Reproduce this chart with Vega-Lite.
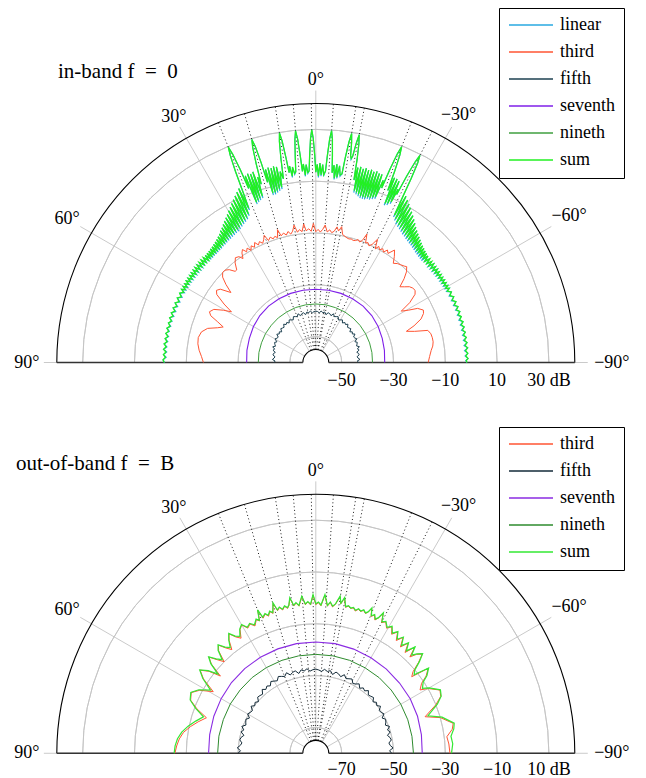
{
"$schema":"https://vega.github.io/schema/vega-lite/v6.json",
"padding":0,
"autosize":{"type":"pad"},
"spacing":0,
"bounds":"flush",
"background":"white",
"config":{
 "view":{"stroke":null},
 "font":"Liberation Serif",
 "legend":{"symbolType":"stroke","symbolSize":1936,"symbolStrokeWidth":1.6,"labelFont":"Liberation Serif","labelFontSize":18,"labelColor":"black","strokeColor":"black","fillColor":"white","padding":9,"rowPadding":9,"labelOffset":6,"clipHeight":16,"direction":"vertical"},
 "text":{"font":"Liberation Serif","fontSize":18,"color":"black"},
 "title":{"font":"Liberation Serif","fontSize":21,"fontWeight":"normal","color":"black","anchor":"start","frame":"group","offset":0}
},
"resolve":{"scale":{"x":"independent","y":"independent","color":"independent","radius":"independent"},"legend":{"color":"independent"}},
"datasets":{
 "ringsT":[{"db":-50},{"db":-30},{"db":-10},{"db":10},{"db":30}],
 "frameT":[{"db":40},{"db":-55}],
 "ringsB":[{"db":-70},{"db":-50},{"db":-30},{"db":-10},{"db":10}],
 "frameB":[{"db":20},{"db":-75}],
 "spokes":[{"a":0},{"a":30},{"a":60},{"a":90},{"a":-30},{"a":-60},{"a":-90}],
 "users":[{"a":22.1},{"a":16.0},{"a":9.0},{"a":5.0},{"a":1.0},{"a":-3.9},{"a":-8.9},{"a":-10.8},{"a":-21.7},{"a":-26.7}],
 "base":[{"a":90},{"a":-90}],
 "angLabels":[{"a":0,"t":"0°"},{"a":30,"t":"30°"},{"a":60,"t":"60°"},{"a":90,"t":"90°"},{"a":-30,"t":"−30°"},{"a":-60,"t":"−60°"},{"a":-90,"t":"−90°"}],
 "radT":[{"db":-50,"t":"−50"},{"db":-30,"t":"−30"},{"db":-10,"t":"−10"},{"db":10,"t":"10"},{"db":30,"t":"30 dB"}],
 "radB":[{"db":-70,"t":"−70"},{"db":-50,"t":"−50"},{"db":-30,"t":"−30"},{"db":-10,"t":"−10"},{"db":10,"t":"10 dB"}],
 "tS":[
{"a":90,"linear":-1.6,"sum":-1.5},{"a":89,"linear":-1.0,"sum":-1.0},{"a":88,"linear":-2.2,"sum":-1.9},{"a":87,"linear":-1.1,"sum":-1.1},{"a":86,"linear":-2.3,"sum":-2.0},{"a":85,"linear":-1.0,"sum":-1.0},{"a":84,"linear":-2.2,"sum":-1.9},{"a":83,"linear":-1.0,"sum":-1.0},{"a":82,"linear":-2.3,"sum":-2.0},{"a":81,"linear":-1.1,"sum":-1.1},{"a":80,"linear":-2.3,"sum":-2.0},{"a":79,"linear":-1.0,"sum":-1.0},{"a":78,"linear":-2.2,"sum":-1.9},{"a":77,"linear":-1.0,"sum":-1.0},{"a":76,"linear":-2.3,"sum":-2.0},{"a":75,"linear":-1.1,"sum":-1.1},{"a":74,"linear":-2.3,"sum":-2.0},{"a":73,"linear":-1.0,"sum":-1.0},{"a":72,"linear":-2.4,"sum":-2.0},{"a":71,"linear":-1.0,"sum":-1.0},{"a":70,"linear":-2.5,"sum":-2.1},{"a":69,"linear":-1.0,"sum":-1.0},{"a":68,"linear":-2.5,"sum":-2.1},{"a":67,"linear":-1.0,"sum":-1.0},{"a":66,"linear":-2.6,"sum":-2.2},{"a":65,"linear":-1.0,"sum":-1.0},{"a":64,"linear":-2.6,"sum":-2.2},{"a":63,"linear":-1.0,"sum":-1.0},{"a":62,"linear":-2.6,"sum":-2.2},
{"a":61.4,"linear":-1.0,"sum":-1.0},{"a":60.8,"linear":-2.6,"sum":-2.2},{"a":60.2,"linear":-1.0,"sum":-1.0},{"a":59.6,"linear":-2.7,"sum":-2.3},{"a":59.0,"linear":-1.0,"sum":-1.0},{"a":58.4,"linear":-2.7,"sum":-2.3},{"a":57.8,"linear":-0.9,"sum":-0.9},{"a":57.2,"linear":-2.7,"sum":-2.3},{"a":56.6,"linear":-0.9,"sum":-0.9},{"a":56.0,"linear":-2.8,"sum":-2.4},{"a":55.4,"linear":-0.9,"sum":-0.9},{"a":54.8,"linear":-2.8,"sum":-2.4},{"a":54.2,"linear":-0.8,"sum":-0.8},{"a":53.6,"linear":-2.9,"sum":-2.5},{"a":53.0,"linear":-0.8,"sum":-0.8},{"a":52.4,"linear":-2.9,"sum":-2.5},{"a":51.8,"linear":-0.7,"sum":-0.7},{"a":51.2,"linear":-3.0,"sum":-2.6},{"a":50.6,"linear":-0.7,"sum":-0.7},{"a":50.0,"linear":-3.0,"sum":-2.6},{"a":49.4,"linear":-0.6,"sum":-0.6},{"a":48.8,"linear":-3.1,"sum":-2.7},{"a":48.2,"linear":-0.6,"sum":-0.6},{"a":47.6,"linear":-3.1,"sum":-2.7},{"a":47.0,"linear":-0.6,"sum":-0.6},{"a":46.4,"linear":-3.2,"sum":-2.8},
{"a":45.9,"linear":-0.6,"sum":-0.6},{"a":45.4,"linear":-3.3,"sum":-2.8},{"a":44.9,"linear":-0.5,"sum":-0.5},{"a":44.4,"linear":-3.3,"sum":-2.8},{"a":43.9,"linear":-0.4,"sum":-0.4},{"a":43.4,"linear":-3.2,"sum":-2.7},{"a":42.9,"linear":-0.2,"sum":-0.2},{"a":42.4,"linear":-3.2,"sum":-2.7},{"a":41.9,"linear":0.0,"sum":0.0},{"a":41.4,"linear":-3.1,"sum":-2.6},{"a":40.9,"linear":0.3,"sum":0.3},{"a":40.4,"linear":-3.0,"sum":-2.5},{"a":39.9,"linear":0.6,"sum":0.6},{"a":39.4,"linear":-2.9,"sum":-2.4},{"a":38.9,"linear":1.0,"sum":1.0},{"a":38.4,"linear":-2.7,"sum":-2.2},{"a":37.9,"linear":1.5,"sum":1.5},{"a":37.4,"linear":-2.6,"sum":-2.0},{"a":36.9,"linear":2.0,"sum":2.0},{"a":36.4,"linear":-2.4,"sum":-1.8},{"a":35.9,"linear":2.8,"sum":2.8},{"a":35.4,"linear":-2.2,"sum":-1.5},{"a":34.9,"linear":3.4,"sum":3.4},{"a":34.4,"linear":-2.0,"sum":-1.2},{"a":33.9,"linear":4.2,"sum":4.2},{"a":33.4,"linear":-1.8,"sum":-1.0},{"a":32.9,"linear":5.0,"sum":5.0},{"a":32.4,"linear":-1.6,"sum":-0.8},{"a":31.9,"linear":5.8,"sum":5.8},{"a":31.4,"linear":-1.4,"sum":-0.6},{"a":30.9,"linear":6.6,"sum":6.6},{"a":30.4,"linear":-1.2,"sum":-0.4},{"a":29.9,"linear":7.6,"sum":7.6},{"a":29.4,"linear":-0.8,"sum":0.0},{"a":28.9,"linear":8.5,"sum":8.5},{"a":28.4,"linear":-0.3,"sum":0.5},{"a":27.9,"linear":9.5,"sum":9.5},{"a":27.4,"linear":0.2,"sum":1.0},{"a":26.9,"linear":10.5,"sum":10.5},{"a":26.4,"linear":0.7,"sum":1.5},{"a":25.9,"linear":11.5,"sum":11.5},{"a":25.4,"linear":1.2,"sum":2.0},{"a":24.9,"linear":12.5,"sum":12.5},{"a":24.4,"linear":2.2,"sum":3.0},{"a":23.9,"linear":13.5,"sum":13.5},{"a":23.5,"linear":4.2,"sum":5.0},
{"a":23.1,"linear":12,"sum":12},{"a":22.8,"linear":20,"sum":20},{"a":22.45,"linear":26.5,"sum":26.5},{"a":22.1,"linear":29.8,"sum":29.8},{"a":21.75,"linear":26.5,"sum":26.5},{"a":21.4,"linear":20,"sum":20},{"a":21.1,"linear":12,"sum":12},
{"a":20.7,"linear":17,"sum":17},{"a":20.3,"linear":5.2,"sum":6},{"a":19.9,"linear":17.5,"sum":17.5},{"a":19.5,"linear":5.7,"sum":6.5},{"a":19.1,"linear":17,"sum":17},{"a":18.7,"linear":6.2,"sum":7},{"a":18.3,"linear":17.5,"sum":17.5},{"a":17.8,"linear":6.7,"sum":7.5},{"a":17.4,"linear":15,"sum":15},
{"a":17.0,"linear":12,"sum":12},{"a":16.7,"linear":20,"sum":20},{"a":16.35,"linear":26.5,"sum":26.5},{"a":16.0,"linear":29.6,"sum":29.6},{"a":15.65,"linear":26.5,"sum":26.5},{"a":15.3,"linear":20,"sum":20},{"a":15.0,"linear":12,"sum":12},
{"a":14.6,"linear":17,"sum":17},{"a":14.2,"linear":6.7,"sum":7.5},{"a":13.8,"linear":17.5,"sum":17.5},{"a":13.4,"linear":6.7,"sum":7.5},{"a":13.0,"linear":17,"sum":17},{"a":12.6,"linear":7.2,"sum":8},{"a":12.2,"linear":17.5,"sum":17.5},{"a":11.8,"linear":7.7,"sum":8.5},{"a":11.4,"linear":17,"sum":17},{"a":11.0,"linear":8.2,"sum":9},{"a":10.6,"linear":15,"sum":15},
{"a":10.0,"linear":12,"sum":12},{"a":9.7,"linear":20,"sum":20},{"a":9.35,"linear":26.5,"sum":26.5},{"a":9.0,"linear":29.7,"sum":29.7},{"a":8.65,"linear":26.5,"sum":26.5},{"a":8.3,"linear":20,"sum":20},{"a":8.0,"linear":14,"sum":14},
{"a":7.6,"linear":16.5,"sum":16.5},{"a":7.2,"linear":12,"sum":12.5},{"a":6.8,"linear":16,"sum":16},{"a":6.4,"linear":13,"sum":13.5},
{"a":6.0,"linear":14,"sum":14},{"a":5.7,"linear":20,"sum":20},{"a":5.35,"linear":26.5,"sum":26.5},{"a":5.0,"linear":29.8,"sum":29.8},{"a":4.65,"linear":26.5,"sum":26.5},{"a":4.3,"linear":20,"sum":20},{"a":4.0,"linear":14,"sum":14},
{"a":3.6,"linear":16.8,"sum":16.8},{"a":3.2,"linear":12,"sum":12.5},{"a":2.8,"linear":16.5,"sum":16.5},{"a":2.4,"linear":13,"sum":13.5},
{"a":2.0,"linear":14,"sum":14},{"a":1.7,"linear":20,"sum":20},{"a":1.35,"linear":26.5,"sum":26.5},{"a":1.0,"linear":29.8,"sum":29.8},{"a":0.65,"linear":26.5,"sum":26.5},{"a":0.3,"linear":20,"sum":20},{"a":0.0,"linear":13.5,"sum":13.5},
{"a":-0.4,"linear":16.5,"sum":16.5},{"a":-0.8,"linear":11.5,"sum":12},{"a":-1.2,"linear":17,"sum":17},{"a":-1.6,"linear":12,"sum":12.5},{"a":-2.0,"linear":16.5,"sum":16.5},{"a":-2.4,"linear":12,"sum":12.5},
{"a":-2.9,"linear":14,"sum":14},{"a":-3.2,"linear":20,"sum":20},{"a":-3.55,"linear":26.5,"sum":26.5},{"a":-3.9,"linear":29.7,"sum":29.7},{"a":-4.25,"linear":26.5,"sum":26.5},{"a":-4.6,"linear":20,"sum":20},{"a":-4.9,"linear":13.5,"sum":13.5},
{"a":-5.3,"linear":16.5,"sum":16.5},{"a":-5.7,"linear":11,"sum":11.5},{"a":-6.1,"linear":17,"sum":17},{"a":-6.5,"linear":11.5,"sum":12},{"a":-6.9,"linear":16.5,"sum":16.5},{"a":-7.4,"linear":12.5,"sum":13},
{"a":-7.9,"linear":13.5,"sum":13.5},{"a":-8.2,"linear":20,"sum":20},{"a":-8.55,"linear":26,"sum":26},{"a":-8.9,"linear":29.5,"sum":29.5},{"a":-9.25,"linear":26,"sum":26},{"a":-9.55,"linear":21,"sum":21},{"a":-9.85,"linear":19.5,"sum":20},{"a":-10.15,"linear":21,"sum":21},{"a":-10.45,"linear":26,"sum":26},{"a":-10.8,"linear":29.5,"sum":29.5},{"a":-11.15,"linear":26,"sum":26},{"a":-11.5,"linear":20,"sum":20},{"a":-11.8,"linear":12,"sum":12},
{"a":-12.2,"linear":17,"sum":17},{"a":-12.6,"linear":7.2,"sum":8},{"a":-13.0,"linear":17.5,"sum":17.5},{"a":-13.4,"linear":6.7,"sum":7.5},{"a":-13.8,"linear":17,"sum":17},{"a":-14.2,"linear":6.2,"sum":7},{"a":-14.6,"linear":17.5,"sum":17.5},{"a":-15.0,"linear":5.7,"sum":6.5},{"a":-15.4,"linear":17,"sum":17},{"a":-15.8,"linear":5.7,"sum":6.5},{"a":-16.2,"linear":17.5,"sum":17.5},{"a":-16.6,"linear":5.7,"sum":6.5},{"a":-17.0,"linear":17,"sum":17},{"a":-17.4,"linear":6.2,"sum":7},{"a":-17.8,"linear":17.5,"sum":17.5},{"a":-18.2,"linear":6.2,"sum":7},{"a":-18.6,"linear":17,"sum":17},{"a":-19.0,"linear":6.7,"sum":7.5},{"a":-19.4,"linear":17,"sum":17},{"a":-19.8,"linear":7.2,"sum":8},{"a":-20.3,"linear":15,"sum":15},
{"a":-20.7,"linear":12,"sum":12},{"a":-21.0,"linear":20,"sum":20},{"a":-21.35,"linear":26.5,"sum":26.5},{"a":-21.7,"linear":29.6,"sum":29.6},{"a":-22.05,"linear":26.5,"sum":26.5},{"a":-22.4,"linear":20,"sum":20},{"a":-22.7,"linear":12,"sum":12},
{"a":-23.1,"linear":17.5,"sum":17.5},{"a":-23.5,"linear":6.2,"sum":7},{"a":-23.9,"linear":17.5,"sum":17.5},{"a":-24.3,"linear":6.7,"sum":7.5},{"a":-24.7,"linear":17,"sum":17},{"a":-25.1,"linear":7.7,"sum":8.5},{"a":-25.4,"linear":14,"sum":14},
{"a":-25.7,"linear":12,"sum":12},{"a":-26.0,"linear":20,"sum":20},{"a":-26.35,"linear":26.5,"sum":26.5},{"a":-26.7,"linear":29.5,"sum":29.5},{"a":-27.05,"linear":26.5,"sum":26.5},{"a":-27.4,"linear":20,"sum":20},{"a":-27.7,"linear":12,"sum":12},
{"a":-28.1,"linear":3.7,"sum":4.5},{"a":-28.5,"linear":13,"sum":13},{"a":-29.0,"linear":2.7,"sum":3.5},{"a":-29.5,"linear":12,"sum":12},{"a":-30.0,"linear":1.7,"sum":2.5},{"a":-30.5,"linear":11,"sum":11},{"a":-31.0,"linear":1.2,"sum":2.0},{"a":-31.5,"linear":10,"sum":10},{"a":-32.0,"linear":0.7,"sum":1.5},{"a":-32.5,"linear":9,"sum":9},{"a":-33.0,"linear":0.2,"sum":1.0},{"a":-33.5,"linear":8,"sum":8},{"a":-34.0,"linear":-0.3,"sum":0.5},{"a":-34.5,"linear":7,"sum":7},{"a":-35.0,"linear":-0.6,"sum":0.2},{"a":-35.5,"linear":6,"sum":6},{"a":-36.0,"linear":-1.0,"sum":-0.2},{"a":-36.5,"linear":5,"sum":5},{"a":-37.0,"linear":-1.3,"sum":-0.5},{"a":-37.5,"linear":4.2,"sum":4.2},{"a":-38.0,"linear":-1.6,"sum":-0.8},{"a":-38.5,"linear":3.5,"sum":3.5},{"a":-39.0,"linear":-1.8,"sum":-1.0},{"a":-39.5,"linear":2.8,"sum":2.8},{"a":-40.0,"linear":-2.1,"sum":-1.3},{"a":-40.5,"linear":2.2,"sum":2.2},{"a":-41.0,"linear":-2.4,"sum":-1.6},{"a":-41.5,"linear":1.6,"sum":1.6},{"a":-42.0,"linear":-2.7,"sum":-1.9},{"a":-42.5,"linear":1.1,"sum":1.1},{"a":-43.0,"linear":-2.9,"sum":-2.1},{"a":-43.5,"linear":0.7,"sum":0.7},{"a":-44.0,"linear":-3.1,"sum":-2.3},{"a":-44.5,"linear":0.3,"sum":0.3},{"a":-45.0,"linear":-3.2,"sum":-2.4},{"a":-45.5,"linear":0.0,"sum":0.0},{"a":-46.0,"linear":-3.3,"sum":-2.5},{"a":-46.5,"linear":-0.3,"sum":-0.3},
{"a":-47.1,"linear":-3.0,"sum":-2.6},{"a":-47.7,"linear":-0.5,"sum":-0.5},{"a":-48.3,"linear":-3.0,"sum":-2.6},{"a":-48.9,"linear":-0.6,"sum":-0.6},{"a":-49.5,"linear":-3.0,"sum":-2.6},{"a":-50.1,"linear":-0.7,"sum":-0.7},{"a":-50.7,"linear":-2.9,"sum":-2.5},{"a":-51.3,"linear":-0.8,"sum":-0.8},{"a":-51.9,"linear":-2.9,"sum":-2.5},{"a":-52.5,"linear":-0.8,"sum":-0.8},{"a":-53.1,"linear":-2.8,"sum":-2.4},{"a":-53.7,"linear":-0.9,"sum":-0.9},{"a":-54.3,"linear":-2.8,"sum":-2.4},{"a":-54.9,"linear":-0.9,"sum":-0.9},{"a":-55.5,"linear":-2.7,"sum":-2.3},{"a":-56.1,"linear":-1.0,"sum":-1.0},{"a":-56.7,"linear":-2.7,"sum":-2.3},{"a":-57.3,"linear":-1.0,"sum":-1.0},{"a":-57.9,"linear":-2.7,"sum":-2.3},{"a":-58.5,"linear":-1.0,"sum":-1.0},{"a":-59.1,"linear":-2.6,"sum":-2.2},{"a":-59.7,"linear":-1.0,"sum":-1.0},{"a":-60.3,"linear":-2.6,"sum":-2.2},{"a":-60.9,"linear":-1.0,"sum":-1.0},{"a":-61.5,"linear":-2.6,"sum":-2.2},
{"a":-62.5,"linear":-1.0,"sum":-1.0},{"a":-63.5,"linear":-2.5,"sum":-2.1},{"a":-64.5,"linear":-1.0,"sum":-1.0},{"a":-65.5,"linear":-2.5,"sum":-2.1},{"a":-66.5,"linear":-1.0,"sum":-1.0},{"a":-67.5,"linear":-2.5,"sum":-2.1},{"a":-68.5,"linear":-1.0,"sum":-1.0},{"a":-69.5,"linear":-2.4,"sum":-2.0},{"a":-70.5,"linear":-1.0,"sum":-1.0},{"a":-71.5,"linear":-2.4,"sum":-2.0},{"a":-72.5,"linear":-1.1,"sum":-1.1},{"a":-73.5,"linear":-2.4,"sum":-2.0},{"a":-74.5,"linear":-1.0,"sum":-1.0},{"a":-75.5,"linear":-2.4,"sum":-2.0},{"a":-76.5,"linear":-1.1,"sum":-1.1},{"a":-77.5,"linear":-2.4,"sum":-2.0},{"a":-78.5,"linear":-1.1,"sum":-1.1},{"a":-79.5,"linear":-2.4,"sum":-2.0},{"a":-80.5,"linear":-1.1,"sum":-1.1},{"a":-81.5,"linear":-2.4,"sum":-2.0},{"a":-82.5,"linear":-1.1,"sum":-1.1},{"a":-83.5,"linear":-2.4,"sum":-2.0},{"a":-84.5,"linear":-1.1,"sum":-1.1},{"a":-85.5,"linear":-2.4,"sum":-2.0},{"a":-86.5,"linear":-1.2,"sum":-1.2},{"a":-87.5,"linear":-2.3,"sum":-2.0},{"a":-88.5,"linear":-1.2,"sum":-1.2},{"a":-89.3,"linear":-2.1,"sum":-1.9},{"a":-90,"linear":-1.7,"sum":-1.6}
 ],
 "t3":[
{"a":90,"third":-16.6},{"a":87,"third":-15.8},{"a":84,"third":-14.7},{"a":81,"third":-13.9},{"a":78,"third":-13.6},{"a":75,"third":-14.3},{"a":72.5,"third":-16.2},{"a":70.5,"third":-19.8},{"a":69,"third":-21.7},{"a":67.5,"third":-19},{"a":66,"third":-15.6},{"a":64.5,"third":-14.5},{"a":62.5,"third":-15.6},{"a":60.5,"third":-19},{"a":59,"third":-22},{"a":57.5,"third":-18},{"a":55.5,"third":-13.6},{"a":54,"third":-12.6},{"a":52.5,"third":-13.5},{"a":50.5,"third":-17.5},{"a":49,"third":-14},{"a":47.5,"third":-11.2},{"a":46,"third":-10},{"a":44.5,"third":-10},{"a":43,"third":-11},{"a":41.5,"third":-13},{"a":40.5,"third":-13},{"a":39,"third":-10.5},{"a":37.5,"third":-9},{"a":36,"third":-9.5},{"a":35,"third":-11},{"a":34,"third":-9},{"a":33,"third":-8},{"a":32,"third":-9.6},{"a":31,"third":-8.5},{"a":30,"third":-10},{"a":29,"third":-8.5},{"a":28,"third":-9.6},{"a":27,"third":-8},{"a":26,"third":-9.5},{"a":25,"third":-8.5},{"a":24,"third":-9.6},{"a":23,"third":-8.5},{"a":22.1,"third":-7},{"a":21.2,"third":-9.5},{"a":20,"third":-8.5},{"a":19,"third":-9.5},{"a":18,"third":-8.8},{"a":17,"third":-9.6},{"a":16.1,"third":-6.6},{"a":15.3,"third":-9.3},{"a":14,"third":-8.5},{"a":13,"third":-9.5},{"a":12,"third":-8.3},{"a":11,"third":-9.5},{"a":10,"third":-8.5},{"a":9,"third":-6.3},{"a":8,"third":-9.2},{"a":7,"third":-8.3},{"a":6,"third":-9.2},{"a":5,"third":-6.3},{"a":4.2,"third":-9},{"a":3,"third":-8.3},{"a":2,"third":-9.3},{"a":1,"third":-6.3},{"a":0,"third":-9.5},{"a":-1,"third":-8.6},{"a":-2,"third":-9.6},{"a":-3,"third":-8.5},{"a":-3.9,"third":-6.8},{"a":-5,"third":-9.4},{"a":-6,"third":-8.5},{"a":-7,"third":-9.5},{"a":-8,"third":-8.8},{"a":-8.9,"third":-7},{"a":-9.8,"third":-8.5},{"a":-10.8,"third":-6.6},{"a":-11.8,"third":-9.5},{"a":-13,"third":-10},{"a":-14,"third":-10.4},{"a":-15,"third":-10.6},{"a":-16,"third":-10.4},{"a":-17,"third":-10.7},{"a":-18,"third":-10.5},{"a":-19,"third":-9.8},{"a":-20,"third":-10.5},{"a":-20.9,"third":-9.5},{"a":-21.7,"third":-6.6},{"a":-22.6,"third":-10},{"a":-23.5,"third":-9.5},{"a":-24.5,"third":-10.5},{"a":-25.5,"third":-9.5},{"a":-26.6,"third":-6.8},{"a":-27.6,"third":-10.5},{"a":-28.5,"third":-9},{"a":-29.5,"third":-10},{"a":-30.5,"third":-9},{"a":-31.5,"third":-10},{"a":-32.5,"third":-8.5},{"a":-33.5,"third":-9.5},{"a":-35,"third":-7},{"a":-36.5,"third":-9},{"a":-38,"third":-11.4},{"a":-39.5,"third":-10.5},{"a":-41,"third":-10},{"a":-42.5,"third":-9.5},{"a":-43.5,"third":-9},{"a":-45,"third":-10.5},{"a":-46.5,"third":-13},{"a":-48,"third":-16.3},{"a":-49.5,"third":-15},{"a":-51,"third":-13.5},{"a":-52.5,"third":-12.8},{"a":-54,"third":-12.6},{"a":-55.5,"third":-13.5},{"a":-57.5,"third":-17},{"a":-59,"third":-21.5},{"a":-60.5,"third":-19},{"a":-62,"third":-15.5},{"a":-64,"third":-13.8},{"a":-65.5,"third":-14.3},{"a":-67.5,"third":-16},{"a":-69.5,"third":-19.5},{"a":-71,"third":-23},{"a":-72.5,"third":-20},{"a":-74,"third":-15},{"a":-76,"third":-14.2},{"a":-78,"third":-14},{"a":-80,"third":-14},{"a":-82,"third":-14.4},{"a":-84,"third":-15.2},{"a":-87,"third":-16},{"a":-90,"third":-16.6}
 ],
 "t5":[
{"a":90,"fifth":-43.8},{"a":88,"fifth":-44.3},{"a":86,"fifth":-43.2},{"a":84,"fifth":-43.8},{"a":82,"fifth":-44.1},{"a":80,"fifth":-43.2},{"a":78,"fifth":-43.3},{"a":76,"fifth":-43.9},{"a":74,"fifth":-42.8},{"a":72,"fifth":-43.3},{"a":70,"fifth":-42.3},{"a":68,"fifth":-43.2},{"a":66,"fifth":-42.7},{"a":64,"fifth":-42.3},{"a":62,"fifth":-43.0},{"a":60,"fifth":-41.8},{"a":58,"fifth":-42.3},{"a":56,"fifth":-42.5},{"a":54,"fifth":-41.4},{"a":52,"fifth":-42.1},{"a":50,"fifth":-41.6},{"a":48,"fifth":-42.3},{"a":46,"fifth":-41.2},{"a":44,"fifth":-41.5},{"a":42,"fifth":-41.7},{"a":40,"fifth":-40.7},{"a":38,"fifth":-41.4},{"a":36,"fifth":-40.9},{"a":34,"fifth":-41.6},{"a":32,"fifth":-40.6},{"a":30,"fifth":-41.0},{"a":28,"fifth":-41.4},{"a":26,"fifth":-40.3},{"a":24,"fifth":-40.6},{"a":22,"fifth":-40.9},{"a":20,"fifth":-40.0},{"a":18,"fifth":-41.0},{"a":16,"fifth":-40.4},{"a":14,"fifth":-40.2},{"a":12,"fifth":-41.1},{"a":10,"fifth":-40.2},{"a":8,"fifth":-40.6},{"a":6,"fifth":-40.0},{"a":4,"fifth":-40.8},{"a":2,"fifth":-40.3},{"a":0,"fifth":-40.2},
{"a":-2,"fifth":-40.3},{"a":-4,"fifth":-40.8},{"a":-6,"fifth":-40.0},{"a":-8,"fifth":-40.6},{"a":-10,"fifth":-40.2},{"a":-12,"fifth":-41.1},{"a":-14,"fifth":-40.2},{"a":-16,"fifth":-40.4},{"a":-18,"fifth":-41.0},{"a":-20,"fifth":-40.0},{"a":-22,"fifth":-40.9},{"a":-24,"fifth":-40.6},{"a":-26,"fifth":-40.3},{"a":-28,"fifth":-41.4},{"a":-30,"fifth":-41.0},{"a":-32,"fifth":-40.6},{"a":-34,"fifth":-41.6},{"a":-36,"fifth":-40.9},{"a":-38,"fifth":-41.4},{"a":-40,"fifth":-40.7},{"a":-42,"fifth":-41.7},{"a":-44,"fifth":-41.5},{"a":-46,"fifth":-41.2},{"a":-48,"fifth":-42.3},{"a":-50,"fifth":-41.6},{"a":-52,"fifth":-42.1},{"a":-54,"fifth":-41.3},{"a":-56,"fifth":-42.4},{"a":-58,"fifth":-42.2},{"a":-60,"fifth":-41.7},{"a":-62,"fifth":-42.9},{"a":-64,"fifth":-42.2},{"a":-66,"fifth":-42.6},{"a":-68,"fifth":-43.0},{"a":-70,"fifth":-42.1},{"a":-72,"fifth":-43.1},{"a":-74,"fifth":-42.6},{"a":-76,"fifth":-43.7},{"a":-78,"fifth":-43.1},{"a":-80,"fifth":-43.0},{"a":-82,"fifth":-43.9},{"a":-84,"fifth":-43.6},{"a":-86,"fifth":-42.9},{"a":-88,"fifth":-44.0},{"a":-90,"fifth":-43.4}
 ],
 "t7":[
{"a":90,"seventh":-33.3},{"a":80,"seventh":-33.0},{"a":70,"seventh":-32.7},{"a":60,"seventh":-32.2},{"a":50,"seventh":-31.8},{"a":40,"seventh":-31.6},{"a":30,"seventh":-31.6},{"a":20,"seventh":-31.6},{"a":10,"seventh":-31.7},{"a":0,"seventh":-31.7},{"a":-10,"seventh":-31.7},{"a":-20,"seventh":-31.6},{"a":-30,"seventh":-31.6},{"a":-40,"seventh":-31.6},{"a":-50,"seventh":-31.8},{"a":-60,"seventh":-32.2},{"a":-70,"seventh":-32.7},{"a":-80,"seventh":-33.1},{"a":-90,"seventh":-33.4}
 ],
 "t9":[
{"a":90,"nineth":-37.8},{"a":80,"nineth":-37.7},{"a":70,"nineth":-37.7},{"a":60,"nineth":-37.6},{"a":50,"nineth":-37.6},{"a":40,"nineth":-37.5},{"a":30,"nineth":-37.5},{"a":20,"nineth":-37.4},{"a":10,"nineth":-37.4},{"a":0,"nineth":-37.4},{"a":-10,"nineth":-37.4},{"a":-20,"nineth":-37.5},{"a":-30,"nineth":-37.5},{"a":-40,"nineth":-37.6},{"a":-50,"nineth":-37.7},{"a":-60,"nineth":-37.8},{"a":-70,"nineth":-37.9},{"a":-80,"nineth":-38.0},{"a":-90,"nineth":-38.1}
 ],
 "b3S":[
{"a":90,"third":-25.6,"sum":-25.3},{"a":87,"third":-26.2,"sum":-25.6},{"a":84,"third":-27.0,"sum":-26.3},{"a":81,"third":-28.3,"sum":-27.6},{"a":78,"third":-30.5,"sum":-29.6},{"a":75,"third":-33.0,"sum":-32.0},{"a":72,"third":-35.6,"sum":-34.4},{"a":69.5,"third":-31.0,"sum":-30.5},{"a":67,"third":-27.5,"sum":-27.3},{"a":64,"third":-26.5,"sum":-26.3},{"a":61.5,"third":-29.0,"sum":-28.6},{"a":59,"third":-33.8,"sum":-32.6},{"a":56.5,"third":-28.0,"sum":-27.7},{"a":54.3,"third":-25.0,"sum":-24.8},{"a":52.5,"third":-28.0,"sum":-27.6},{"a":51,"third":-32.6,"sum":-31.4},{"a":49.5,"third":-27.0,"sum":-26.7},{"a":48,"third":-24.5,"sum":-24.3},{"a":46.5,"third":-27.5,"sum":-27.0},{"a":45,"third":-30.0,"sum":-28.9},{"a":43.5,"third":-25.5,"sum":-25.2},{"a":42,"third":-23.8,"sum":-23.6},{"a":40.5,"third":-26.5,"sum":-26.1},{"a":39,"third":-28.5,"sum":-27.5},{"a":37.5,"third":-25.0,"sum":-24.8},{"a":36,"third":-23.0,"sum":-22.8},{"a":34.5,"third":-25.5,"sum":-25.1},{"a":33,"third":-27.0,"sum":-26.2},{"a":31.5,"third":-24.0,"sum":-23.8},{"a":30,"third":-22.8,"sum":-22.6},{"a":28.5,"third":-25.0,"sum":-24.6},{"a":27,"third":-24.0,"sum":-23.7},{"a":25.5,"third":-25.5,"sum":-25.0},{"a":24,"third":-23.5,"sum":-23.3},{"a":23,"third":-24.5,"sum":-24.2},{"a":22.1,"third":-20.4,"sum":-20.2},{"a":21.3,"third":-24.0,"sum":-23.6},{"a":20,"third":-22.8,"sum":-22.6},{"a":19,"third":-24.0,"sum":-23.6},{"a":18,"third":-22.5,"sum":-22.3},{"a":17,"third":-23.5,"sum":-23.2},{"a":15.9,"third":-19.8,"sum":-19.6},{"a":15,"third":-23.0,"sum":-22.7},{"a":14,"third":-22.0,"sum":-21.8},{"a":13,"third":-23.2,"sum":-22.9},{"a":12,"third":-22.0,"sum":-21.8},{"a":11,"third":-23.0,"sum":-22.7},{"a":10.3,"third":-22.0,"sum":-21.8},{"a":9.5,"third":-19.3,"sum":-19.1},{"a":8.5,"third":-22.5,"sum":-22.2},{"a":7.5,"third":-21.5,"sum":-21.3},{"a":6.5,"third":-22.8,"sum":-22.5},{"a":5.1,"third":-19.3,"sum":-19.1},{"a":4,"third":-22.5,"sum":-22.2},{"a":3,"third":-21.5,"sum":-21.3},{"a":2,"third":-22.7,"sum":-22.4},{"a":1,"third":-18.9,"sum":-18.7},{"a":0,"third":-22.6,"sum":-22.3},{"a":-1,"third":-21.8,"sum":-21.6},{"a":-2,"third":-23.0,"sum":-22.7},{"a":-3.3,"third":-18.8,"sum":-18.6},{"a":-4.5,"third":-23.0,"sum":-22.7},{"a":-5.5,"third":-21.5,"sum":-21.3},{"a":-6.5,"third":-23.1,"sum":-22.8},{"a":-7.5,"third":-22.0,"sum":-21.8},{"a":-8.8,"third":-18.8,"sum":-18.6},{"a":-9.5,"third":-21.5,"sum":-21.3},{"a":-10.5,"third":-19.0,"sum":-18.8},{"a":-11.5,"third":-22.5,"sum":-22.2},{"a":-12.5,"third":-21.8,"sum":-21.6},{"a":-13.5,"third":-22.5,"sum":-22.3},{"a":-14.5,"third":-22.0,"sum":-21.8},{"a":-15.5,"third":-23.0,"sum":-22.7},{"a":-16.5,"third":-22.0,"sum":-21.8},{"a":-17.5,"third":-22.6,"sum":-22.4},{"a":-18.5,"third":-21.8,"sum":-21.6},{"a":-19.5,"third":-22.7,"sum":-22.5},{"a":-20.3,"third":-22.0,"sum":-21.8},{"a":-21.1,"third":-20.0,"sum":-19.8},{"a":-22,"third":-23.0,"sum":-22.7},{"a":-23,"third":-22.0,"sum":-21.8},{"a":-23.9,"third":-23.7,"sum":-23.3},{"a":-24.8,"third":-22.5,"sum":-22.3},{"a":-25.7,"third":-20.0,"sum":-19.8},{"a":-26.7,"third":-23.5,"sum":-23.2},{"a":-28,"third":-22.5,"sum":-22.3},{"a":-29.5,"third":-24.5,"sum":-24.1},{"a":-31,"third":-23.0,"sum":-22.8},{"a":-32.5,"third":-25.5,"sum":-25.0},{"a":-34,"third":-23.5,"sum":-23.3},{"a":-35.5,"third":-26.5,"sum":-25.9},{"a":-37,"third":-24.0,"sum":-23.8},{"a":-38.5,"third":-27.5,"sum":-26.8},{"a":-40,"third":-24.5,"sum":-24.3},{"a":-41.5,"third":-28.0,"sum":-27.2},{"a":-43,"third":-24.0,"sum":-23.8},{"a":-44.3,"third":-28.0,"sum":-27.0},{"a":-45.5,"third":-25.5,"sum":-25.2},{"a":-47,"third":-23.8,"sum":-23.6},{"a":-48.5,"third":-27.0,"sum":-26.6},{"a":-50,"third":-31.0,"sum":-30.2},{"a":-51.4,"third":-32.6,"sum":-31.4},{"a":-52.9,"third":-25.6,"sum":-25.4},{"a":-55,"third":-28.0,"sum":-27.6},{"a":-56.5,"third":-31.0,"sum":-30.3},{"a":-58.7,"third":-32.9,"sum":-31.8},{"a":-60,"third":-30.0,"sum":-29.5},{"a":-63,"third":-26.2,"sum":-26.0},{"a":-65.5,"third":-27.0,"sum":-26.8},{"a":-68,"third":-30.0,"sum":-29.4},{"a":-71.5,"third":-35.5,"sum":-34.3},{"a":-74,"third":-30.0,"sum":-29.3},{"a":-77.7,"third":-25.7,"sum":-25.3},{"a":-80,"third":-26.5,"sum":-25.9},{"a":-82.8,"third":-29.0,"sum":-27.4},{"a":-86,"third":-28.5,"sum":-27.0},{"a":-90,"third":-28.2,"sum":-27.6}
 ],
 "b5":[
{"a":90,"fifth":-50.0},{"a":88,"fifth":-50.9},{"a":86,"fifth":-49.6},{"a":84,"fifth":-50.7},{"a":82,"fifth":-51.2},{"a":80,"fifth":-50.2},{"a":78,"fifth":-50.5},{"a":76,"fifth":-51.4},{"a":74,"fifth":-50.0},{"a":72,"fifth":-50.8},{"a":70,"fifth":-49.6},{"a":68,"fifth":-50.9},{"a":66,"fifth":-50.4},{"a":64,"fifth":-50.0},{"a":62,"fifth":-51.0},{"a":60,"fifth":-49.6},{"a":58,"fifth":-50.2},{"a":56,"fifth":-50.5},{"a":54,"fifth":-49.1},{"a":52,"fifth":-50.1},{"a":50,"fifth":-49.4},{"a":48,"fifth":-50.2},{"a":46,"fifth":-48.8},{"a":44,"fifth":-49.0},{"a":42,"fifth":-49.3},{"a":40,"fifth":-47.8},{"a":38,"fifth":-48.7},{"a":36,"fifth":-47.9},{"a":34,"fifth":-48.6},{"a":32,"fifth":-47.3},{"a":30,"fifth":-47.8},{"a":28,"fifth":-48.3},{"a":26,"fifth":-47.0},{"a":24,"fifth":-47.5},{"a":22,"fifth":-48.0},{"a":20,"fifth":-46.9},{"a":18,"fifth":-48.2},{"a":16,"fifth":-47.5},{"a":14,"fifth":-47.2},{"a":12,"fifth":-48.5},{"a":10,"fifth":-47.3},{"a":8,"fifth":-47.9},{"a":6,"fifth":-47.2},{"a":4,"fifth":-48.2},{"a":2,"fifth":-47.7},{"a":0,"fifth":-47.5},
{"a":-2,"fifth":-47.8},{"a":-4,"fifth":-48.3},{"a":-6,"fifth":-47.4},{"a":-8,"fifth":-48.1},{"a":-10,"fifth":-47.6},{"a":-12,"fifth":-48.9},{"a":-14,"fifth":-47.7},{"a":-16,"fifth":-48.1},{"a":-18,"fifth":-48.9},{"a":-20,"fifth":-47.7},{"a":-22,"fifth":-48.9},{"a":-24,"fifth":-48.5},{"a":-26,"fifth":-48.1},{"a":-28,"fifth":-49.5},{"a":-30,"fifth":-49.1},{"a":-32,"fifth":-48.4},{"a":-34,"fifth":-49.7},{"a":-36,"fifth":-48.8},{"a":-38,"fifth":-49.4},{"a":-40,"fifth":-48.4},{"a":-42,"fifth":-49.7},{"a":-44,"fifth":-49.4},{"a":-46,"fifth":-49.0},{"a":-48,"fifth":-50.3},{"a":-50,"fifth":-49.4},{"a":-52,"fifth":-50.1},{"a":-54,"fifth":-49.1},{"a":-56,"fifth":-50.5},{"a":-58,"fifth":-50.2},{"a":-60,"fifth":-49.6},{"a":-62,"fifth":-51.0},{"a":-64,"fifth":-50.0},{"a":-66,"fifth":-50.4},{"a":-68,"fifth":-51.0},{"a":-70,"fifth":-49.7},{"a":-72,"fifth":-50.9},{"a":-74,"fifth":-50.1},{"a":-76,"fifth":-51.5},{"a":-78,"fifth":-50.7},{"a":-80,"fifth":-50.4},{"a":-82,"fifth":-51.5},{"a":-84,"fifth":-51.1},{"a":-86,"fifth":-50.1},{"a":-88,"fifth":-51.5},{"a":-90,"fifth":-50.7}
 ],
 "b7":[
{"a":90,"seventh":-38.6},{"a":80,"seventh":-38.4},{"a":70,"seventh":-38.1},{"a":60,"seventh":-37.8},{"a":50,"seventh":-37.5},{"a":40,"seventh":-37.3},{"a":30,"seventh":-37.2},{"a":20,"seventh":-37.1},{"a":10,"seventh":-37.0},{"a":0,"seventh":-37.0},{"a":-10,"seventh":-37.0},{"a":-20,"seventh":-37.2},{"a":-30,"seventh":-37.4},{"a":-40,"seventh":-37.6},{"a":-50,"seventh":-37.8},{"a":-60,"seventh":-37.9},{"a":-70,"seventh":-38.2},{"a":-80,"seventh":-38.6},{"a":-90,"seventh":-38.9}
 ],
 "b9":[
{"a":90,"nineth":-42.1},{"a":80,"nineth":-42.0},{"a":70,"nineth":-42.0},{"a":60,"nineth":-41.9},{"a":50,"nineth":-41.9},{"a":40,"nineth":-41.8},{"a":30,"nineth":-41.8},{"a":20,"nineth":-41.8},{"a":10,"nineth":-41.8},{"a":0,"nineth":-41.8},{"a":-10,"nineth":-41.8},{"a":-20,"nineth":-41.8},{"a":-30,"nineth":-41.9},{"a":-40,"nineth":-41.9},{"a":-50,"nineth":-42.0},{"a":-60,"nineth":-42.1},{"a":-70,"nineth":-42.2},{"a":-80,"nineth":-42.3},{"a":-90,"nineth":-42.3}
 ]
},
"vconcat":[
{
 "width":646,"height":389,
 "title":{"text":"in-band f\u2002=\u20020","dx":58,"dy":103,"baseline":"alphabetic"},
 "layer":[
  {"data":{"name":"spokes"},
   "transform":[{"calculate":"-0.05*sin(datum.a*PI/180)","as":"x1"},{"calculate":"0.05*cos(datum.a*PI/180)","as":"y1"},{"calculate":"-1.05*sin(datum.a*PI/180)","as":"x2"},{"calculate":"1.05*cos(datum.a*PI/180)","as":"y2"}],
   "mark":{"type":"rule","color":"#c4c4c4","strokeWidth":0.9},
   "encoding":{"x":{"field":"x1","type":"quantitative","axis":null,"scale":{"domain":[-1.2193,1.2749],"nice":false,"zero":false}},"y":{"field":"y1","type":"quantitative","axis":null,"scale":{"domain":[-0.1023,1.3996],"nice":false,"zero":false}},"x2":{"field":"x2"},"y2":{"field":"y2"}}},
  {"data":{"name":"ringsT"},
   "mark":{"type":"arc","filled":false,"color":"#c4c4c4","strokeWidth":0.9,"theta":-1.5707963,"theta2":1.5707963},
   "encoding":{"x":{"datum":0,"type":"quantitative","axis":null},"y":{"datum":0,"type":"quantitative","axis":null},"radius":{"field":"db","type":"quantitative","scale":{"type":"linear","domain":[-60,40],"range":[0,259],"zero":false}},"radius2":{"field":"db"}}},
  {"data":{"name":"frameT"},
   "mark":{"type":"arc","filled":false,"color":"#000000","strokeWidth":1.1,"theta":-1.5707963,"theta2":1.5707963},
   "encoding":{"x":{"datum":0,"type":"quantitative","axis":null},"y":{"datum":0,"type":"quantitative","axis":null},"radius":{"field":"db","type":"quantitative","scale":{"type":"linear","domain":[-60,40],"range":[0,259],"zero":false}},"radius2":{"field":"db"}}},
  {"data":{"name":"users"},
   "transform":[{"calculate":"-0.05*sin(datum.a*PI/180)","as":"x1"},{"calculate":"0.05*cos(datum.a*PI/180)","as":"y1"},{"calculate":"-1.0*sin(datum.a*PI/180)","as":"x2"},{"calculate":"1.0*cos(datum.a*PI/180)","as":"y2"}],
   "mark":{"type":"rule","color":"#000000","strokeWidth":0.9,"strokeDash":[1,2.6]},
   "encoding":{"x":{"field":"x1","type":"quantitative","axis":null},"y":{"field":"y1","type":"quantitative","axis":null},"x2":{"field":"x2"},"y2":{"field":"y2"}}},
  {"data":{"name":"base"},
   "transform":[{"calculate":"-0.05*sin(datum.a*PI/180)","as":"x1"},{"calculate":"0","as":"y1"},{"calculate":"-1.0*sin(datum.a*PI/180)","as":"x2"}],
   "mark":{"type":"rule","color":"#333333","strokeWidth":1.4},
   "encoding":{"x":{"field":"x1","type":"quantitative","axis":null},"y":{"field":"y1","type":"quantitative","axis":null},"x2":{"field":"x2"}}},
  {"data":{"name":"tS"},
   "transform":[{"fold":["linear"],"as":["series","db"]},{"calculate":"(datum.db+60)/100","as":"rho"},{"calculate":"-datum.rho*sin(datum.a*PI/180)","as":"x"},{"calculate":"datum.rho*cos(datum.a*PI/180)","as":"y"}],
   "mark":{"type":"line","strokeWidth":1.1},
   "encoding":{"x":{"field":"x","type":"quantitative","axis":null},"y":{"field":"y","type":"quantitative","axis":null},"order":{"field":"a","type":"quantitative"},
    "color":{"field":"series","type":"nominal","scale":{"domain":["linear","third","fifth","seventh","nineth","sum"],"range":["#29a8e0","#ff5533","#1d4050","#7f1fe8","#3f9f3f","#22f022"]},"legend":{"title":null,"orient":"none","legendX":499,"legendY":8,"zindex":1}}}},
  {"data":{"name":"t3"},
   "transform":[{"fold":["third"],"as":["series","db"]},{"calculate":"(datum.db+60)/100","as":"rho"},{"calculate":"-datum.rho*sin(datum.a*PI/180)","as":"x"},{"calculate":"datum.rho*cos(datum.a*PI/180)","as":"y"}],
   "mark":{"type":"line","strokeWidth":1.0},
   "encoding":{"x":{"field":"x","type":"quantitative","axis":null},"y":{"field":"y","type":"quantitative","axis":null},"order":{"field":"a","type":"quantitative"},
    "color":{"field":"series","type":"nominal","scale":{"domain":["linear","third","fifth","seventh","nineth","sum"],"range":["#29a8e0","#ff5533","#1d4050","#7f1fe8","#3f9f3f","#22f022"]},"legend":{"title":null,"orient":"none","legendX":499,"legendY":8,"zindex":1}}}},
  {"data":{"name":"t5"},
   "transform":[{"fold":["fifth"],"as":["series","db"]},{"calculate":"(datum.db+60)/100","as":"rho"},{"calculate":"-datum.rho*sin(datum.a*PI/180)","as":"x"},{"calculate":"datum.rho*cos(datum.a*PI/180)","as":"y"}],
   "mark":{"type":"line","strokeWidth":1.0},
   "encoding":{"x":{"field":"x","type":"quantitative","axis":null},"y":{"field":"y","type":"quantitative","axis":null},"order":{"field":"a","type":"quantitative"},
    "color":{"field":"series","type":"nominal","scale":{"domain":["linear","third","fifth","seventh","nineth","sum"],"range":["#29a8e0","#ff5533","#1d4050","#7f1fe8","#3f9f3f","#22f022"]},"legend":{"title":null,"orient":"none","legendX":499,"legendY":8,"zindex":1}}}},
  {"data":{"name":"t7"},
   "transform":[{"fold":["seventh"],"as":["series","db"]},{"calculate":"(datum.db+60)/100","as":"rho"},{"calculate":"-datum.rho*sin(datum.a*PI/180)","as":"x"},{"calculate":"datum.rho*cos(datum.a*PI/180)","as":"y"}],
   "mark":{"type":"line","strokeWidth":1.1},
   "encoding":{"x":{"field":"x","type":"quantitative","axis":null},"y":{"field":"y","type":"quantitative","axis":null},"order":{"field":"a","type":"quantitative"},
    "color":{"field":"series","type":"nominal","scale":{"domain":["linear","third","fifth","seventh","nineth","sum"],"range":["#29a8e0","#ff5533","#1d4050","#7f1fe8","#3f9f3f","#22f022"]},"legend":{"title":null,"orient":"none","legendX":499,"legendY":8,"zindex":1}}}},
  {"data":{"name":"t9"},
   "transform":[{"fold":["nineth"],"as":["series","db"]},{"calculate":"(datum.db+60)/100","as":"rho"},{"calculate":"-datum.rho*sin(datum.a*PI/180)","as":"x"},{"calculate":"datum.rho*cos(datum.a*PI/180)","as":"y"}],
   "mark":{"type":"line","strokeWidth":1.0},
   "encoding":{"x":{"field":"x","type":"quantitative","axis":null},"y":{"field":"y","type":"quantitative","axis":null},"order":{"field":"a","type":"quantitative"},
    "color":{"field":"series","type":"nominal","scale":{"domain":["linear","third","fifth","seventh","nineth","sum"],"range":["#29a8e0","#ff5533","#1d4050","#7f1fe8","#3f9f3f","#22f022"]},"legend":{"title":null,"orient":"none","legendX":499,"legendY":8,"zindex":1}}}},
  {"data":{"name":"tS"},
   "transform":[{"fold":["sum"],"as":["series","db"]},{"calculate":"(datum.db+60)/100","as":"rho"},{"calculate":"-datum.rho*sin(datum.a*PI/180)","as":"x"},{"calculate":"datum.rho*cos(datum.a*PI/180)","as":"y"}],
   "mark":{"type":"line","strokeWidth":1.3},
   "encoding":{"x":{"field":"x","type":"quantitative","axis":null},"y":{"field":"y","type":"quantitative","axis":null},"order":{"field":"a","type":"quantitative"},
    "color":{"field":"series","type":"nominal","scale":{"domain":["linear","third","fifth","seventh","nineth","sum"],"range":["#29a8e0","#ff5533","#1d4050","#7f1fe8","#3f9f3f","#22f022"]},"legend":{"title":null,"orient":"none","legendX":499,"legendY":8,"zindex":1}}}},
  {"data":{"name":"angLabels"},
   "transform":[{"calculate":"(282+pow(sin(datum.a*PI/180),2)*(length(datum.t)-2)*7)/259","as":"lr"},{"calculate":"-datum.lr*sin(datum.a*PI/180)","as":"x"},{"calculate":"datum.lr*cos(datum.a*PI/180)","as":"y"}],
   "mark":{"type":"text","align":"center","baseline":"middle","fontSize":18},
   "encoding":{"x":{"field":"x","type":"quantitative","axis":null},"y":{"field":"y","type":"quantitative","axis":null},"text":{"field":"t"}}},
  {"data":{"name":"radT"},
   "transform":[{"calculate":"(datum.db+60)/100","as":"x"}],
   "mark":{"type":"text","align":"center","baseline":"middle","fontSize":18,"dy":18},
   "encoding":{"x":{"field":"x","type":"quantitative","axis":null},"y":{"datum":0,"type":"quantitative","axis":null},"text":{"field":"t"}}}
 ]
},
{
 "width":646,"height":389,
 "title":{"text":"out-of-band f\u2002=\u2002B","dx":16,"dy":106,"baseline":"alphabetic"},
 "layer":[
  {"data":{"name":"spokes"},
   "transform":[{"calculate":"-0.05*sin(datum.a*PI/180)","as":"x1"},{"calculate":"0.05*cos(datum.a*PI/180)","as":"y1"},{"calculate":"-1.05*sin(datum.a*PI/180)","as":"x2"},{"calculate":"1.05*cos(datum.a*PI/180)","as":"y2"}],
   "mark":{"type":"rule","color":"#c4c4c4","strokeWidth":0.9},
   "encoding":{"x":{"field":"x1","type":"quantitative","axis":null,"scale":{"domain":[-1.2193,1.2749],"nice":false,"zero":false}},"y":{"field":"y1","type":"quantitative","axis":null,"scale":{"domain":[-0.0954,1.4066],"nice":false,"zero":false}},"x2":{"field":"x2"},"y2":{"field":"y2"}}},
  {"data":{"name":"ringsB"},
   "mark":{"type":"arc","filled":false,"color":"#c4c4c4","strokeWidth":0.9,"theta":-1.5707963,"theta2":1.5707963},
   "encoding":{"x":{"datum":0,"type":"quantitative","axis":null},"y":{"datum":0,"type":"quantitative","axis":null},"radius":{"field":"db","type":"quantitative","scale":{"type":"linear","domain":[-80,20],"range":[0,259],"zero":false}},"radius2":{"field":"db"}}},
  {"data":{"name":"frameB"},
   "mark":{"type":"arc","filled":false,"color":"#000000","strokeWidth":1.1,"theta":-1.5707963,"theta2":1.5707963},
   "encoding":{"x":{"datum":0,"type":"quantitative","axis":null},"y":{"datum":0,"type":"quantitative","axis":null},"radius":{"field":"db","type":"quantitative","scale":{"type":"linear","domain":[-80,20],"range":[0,259],"zero":false}},"radius2":{"field":"db"}}},
  {"data":{"name":"users"},
   "transform":[{"calculate":"-0.05*sin(datum.a*PI/180)","as":"x1"},{"calculate":"0.05*cos(datum.a*PI/180)","as":"y1"},{"calculate":"-1.0*sin(datum.a*PI/180)","as":"x2"},{"calculate":"1.0*cos(datum.a*PI/180)","as":"y2"}],
   "mark":{"type":"rule","color":"#000000","strokeWidth":0.9,"strokeDash":[1,2.6]},
   "encoding":{"x":{"field":"x1","type":"quantitative","axis":null},"y":{"field":"y1","type":"quantitative","axis":null},"x2":{"field":"x2"},"y2":{"field":"y2"}}},
  {"data":{"name":"base"},
   "transform":[{"calculate":"-0.05*sin(datum.a*PI/180)","as":"x1"},{"calculate":"0","as":"y1"},{"calculate":"-1.0*sin(datum.a*PI/180)","as":"x2"}],
   "mark":{"type":"rule","color":"#333333","strokeWidth":1.4},
   "encoding":{"x":{"field":"x1","type":"quantitative","axis":null},"y":{"field":"y1","type":"quantitative","axis":null},"x2":{"field":"x2"}}},
  {"data":{"name":"b3S"},
   "transform":[{"fold":["third"],"as":["series","db"]},{"calculate":"(datum.db+80)/100","as":"rho"},{"calculate":"-datum.rho*sin(datum.a*PI/180)","as":"x"},{"calculate":"datum.rho*cos(datum.a*PI/180)","as":"y"}],
   "mark":{"type":"line","strokeWidth":1.0},
   "encoding":{"x":{"field":"x","type":"quantitative","axis":null},"y":{"field":"y","type":"quantitative","axis":null},"order":{"field":"a","type":"quantitative"},
    "color":{"field":"series","type":"nominal","scale":{"domain":["third","fifth","seventh","nineth","sum"],"range":["#ff5533","#132a38","#8a2be2","#2e8b2e","#33e833"]},"legend":{"title":null,"orient":"none","legendX":499,"legendY":38,"zindex":1}}}},
  {"data":{"name":"b5"},
   "transform":[{"fold":["fifth"],"as":["series","db"]},{"calculate":"(datum.db+80)/100","as":"rho"},{"calculate":"-datum.rho*sin(datum.a*PI/180)","as":"x"},{"calculate":"datum.rho*cos(datum.a*PI/180)","as":"y"}],
   "mark":{"type":"line","strokeWidth":1.0},
   "encoding":{"x":{"field":"x","type":"quantitative","axis":null},"y":{"field":"y","type":"quantitative","axis":null},"order":{"field":"a","type":"quantitative"},
    "color":{"field":"series","type":"nominal","scale":{"domain":["third","fifth","seventh","nineth","sum"],"range":["#ff5533","#132a38","#8a2be2","#2e8b2e","#33e833"]},"legend":{"title":null,"orient":"none","legendX":499,"legendY":38,"zindex":1}}}},
  {"data":{"name":"b7"},
   "transform":[{"fold":["seventh"],"as":["series","db"]},{"calculate":"(datum.db+80)/100","as":"rho"},{"calculate":"-datum.rho*sin(datum.a*PI/180)","as":"x"},{"calculate":"datum.rho*cos(datum.a*PI/180)","as":"y"}],
   "mark":{"type":"line","strokeWidth":1.1},
   "encoding":{"x":{"field":"x","type":"quantitative","axis":null},"y":{"field":"y","type":"quantitative","axis":null},"order":{"field":"a","type":"quantitative"},
    "color":{"field":"series","type":"nominal","scale":{"domain":["third","fifth","seventh","nineth","sum"],"range":["#ff5533","#132a38","#8a2be2","#2e8b2e","#33e833"]},"legend":{"title":null,"orient":"none","legendX":499,"legendY":38,"zindex":1}}}},
  {"data":{"name":"b9"},
   "transform":[{"fold":["nineth"],"as":["series","db"]},{"calculate":"(datum.db+80)/100","as":"rho"},{"calculate":"-datum.rho*sin(datum.a*PI/180)","as":"x"},{"calculate":"datum.rho*cos(datum.a*PI/180)","as":"y"}],
   "mark":{"type":"line","strokeWidth":1.0},
   "encoding":{"x":{"field":"x","type":"quantitative","axis":null},"y":{"field":"y","type":"quantitative","axis":null},"order":{"field":"a","type":"quantitative"},
    "color":{"field":"series","type":"nominal","scale":{"domain":["third","fifth","seventh","nineth","sum"],"range":["#ff5533","#132a38","#8a2be2","#2e8b2e","#33e833"]},"legend":{"title":null,"orient":"none","legendX":499,"legendY":38,"zindex":1}}}},
  {"data":{"name":"b3S"},
   "transform":[{"fold":["sum"],"as":["series","db"]},{"calculate":"(datum.db+80)/100","as":"rho"},{"calculate":"-datum.rho*sin(datum.a*PI/180)","as":"x"},{"calculate":"datum.rho*cos(datum.a*PI/180)","as":"y"}],
   "mark":{"type":"line","strokeWidth":1.2},
   "encoding":{"x":{"field":"x","type":"quantitative","axis":null},"y":{"field":"y","type":"quantitative","axis":null},"order":{"field":"a","type":"quantitative"},
    "color":{"field":"series","type":"nominal","scale":{"domain":["third","fifth","seventh","nineth","sum"],"range":["#ff5533","#132a38","#8a2be2","#2e8b2e","#33e833"]},"legend":{"title":null,"orient":"none","legendX":499,"legendY":38,"zindex":1}}}},
  {"data":{"name":"angLabels"},
   "transform":[{"calculate":"(282+pow(sin(datum.a*PI/180),2)*(length(datum.t)-2)*7)/259","as":"lr"},{"calculate":"-datum.lr*sin(datum.a*PI/180)","as":"x"},{"calculate":"datum.lr*cos(datum.a*PI/180)","as":"y"}],
   "mark":{"type":"text","align":"center","baseline":"middle","fontSize":18},
   "encoding":{"x":{"field":"x","type":"quantitative","axis":null},"y":{"field":"y","type":"quantitative","axis":null},"text":{"field":"t"}}},
  {"data":{"name":"radB"},
   "transform":[{"calculate":"(datum.db+80)/100","as":"x"}],
   "mark":{"type":"text","align":"center","baseline":"middle","fontSize":18,"dy":17},
   "encoding":{"x":{"field":"x","type":"quantitative","axis":null},"y":{"datum":0,"type":"quantitative","axis":null},"text":{"field":"t"}}}
 ]
}
]
}
